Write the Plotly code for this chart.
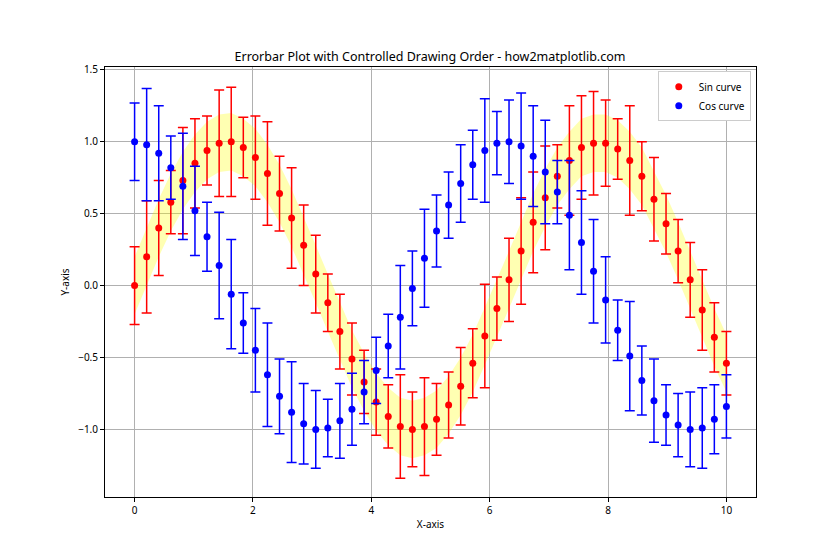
import plotly.graph_objects as go

# x positions (50 evenly spaced samples from 0 to 10)
x_vals = [0.0, 0.204, 0.408, 0.612, 0.816, 1.020, 1.224, 1.429, 1.633, 1.837,
          2.041, 2.245, 2.449, 2.653, 2.857, 3.061, 3.265, 3.469, 3.673, 3.878,
          4.082, 4.286, 4.490, 4.694, 4.898, 5.102, 5.306, 5.510, 5.714, 5.918,
          6.122, 6.327, 6.531, 6.735, 6.939, 7.143, 7.347, 7.551, 7.755, 7.959,
          8.163, 8.367, 8.571, 8.776, 8.980, 9.184, 9.388, 9.592, 9.796, 10.0]

sin_vals = [0.00, 0.20, 0.40, 0.58, 0.73, 0.85, 0.94, 0.99, 1.00, 0.96,
            0.89, 0.78, 0.64, 0.47, 0.28, 0.08, -0.12, -0.32, -0.51, -0.67,
            -0.81, -0.91, -0.98, -1.00, -0.98, -0.93, -0.83, -0.70, -0.54, -0.35,
            -0.16, 0.04, 0.24, 0.44, 0.61, 0.76, 0.87, 0.96, 0.99, 0.99,
            0.95, 0.87, 0.76, 0.60, 0.43, 0.24, 0.04, -0.17, -0.36, -0.54]

cos_vals = [1.00, 0.98, 0.92, 0.82, 0.69, 0.52, 0.34, 0.14, -0.06, -0.26,
            -0.45, -0.62, -0.77, -0.88, -0.96, -1.00, -0.99, -0.94, -0.86, -0.74,
            -0.59, -0.42, -0.22, -0.02, 0.19, 0.38, 0.56, 0.71, 0.84, 0.94,
            0.99, 1.00, 0.97, 0.90, 0.79, 0.65, 0.49, 0.30, 0.10, -0.10,
            -0.31, -0.49, -0.66, -0.80, -0.90, -0.97, -1.00, -0.99, -0.93, -0.84]

# error sizes (same for both curves)
y_err = [0.27, 0.39, 0.33, 0.22, 0.37, 0.31, 0.24, 0.37, 0.38, 0.21,
         0.29, 0.36, 0.26, 0.35, 0.28, 0.27, 0.20, 0.26, 0.25, 0.22,
         0.23, 0.22, 0.36, 0.26, 0.34, 0.25, 0.23, 0.27, 0.24, 0.36,
         0.22, 0.29, 0.37, 0.35, 0.36, 0.22, 0.38, 0.36, 0.36, 0.30,
         0.21, 0.38, 0.24, 0.29, 0.21, 0.22, 0.26, 0.28, 0.24, 0.22]

band_width = 0.2

band_upper = [v + band_width for v in sin_vals]
band_lower = [v - band_width for v in sin_vals]

fig = go.Figure()

# yellow band around sin curve
fig.add_trace(
    go.Scatter(
        x=x_vals,
        y=band_upper,
        mode="lines",
        line=dict(width=0),
        showlegend=False,
        hoverinfo="skip"
    )
)
fig.add_trace(
    go.Scatter(
        x=x_vals,
        y=band_lower,
        mode="lines",
        line=dict(width=0),
        fill="tonexty",
        fillcolor="rgba(255,255,0,0.3)",
        showlegend=False,
        hoverinfo="skip"
    )
)

# SIN
fig.add_trace(
    go.Scatter(
        x=x_vals,
        y=sin_vals,
        mode="markers",
        name="Sin curve",
        marker=dict(color="red", size=7),
        error_y=dict(type="data", array=y_err, color="red",
                     thickness=1.5, width=5)
    )
)

# COS
fig.add_trace(
    go.Scatter(
        x=x_vals,
        y=cos_vals,
        mode="markers",
        name="Cos curve",
        marker=dict(color="blue", size=7),
        error_y=dict(type="data", array=y_err, color="blue",
                     thickness=1.5, width=5)
    )
)

axis_style = dict(
    showline=True,
    linecolor="black",
    linewidth=1,
    mirror=True,
    ticks="outside",
    ticklen=4,
    tickcolor="black",
    showgrid=True,
    gridcolor="#b0b0b0",
    gridwidth=0.8,
    zeroline=False,
    automargin=False,
    tickfont=dict(size=10, color="black")
)

fig.update_layout(
    width=840,
    height=560,
    paper_bgcolor="white",
    plot_bgcolor="white",
    font=dict(family="Noto Sans, DejaVu Sans, sans-serif", color="black"),
    title=dict(
        text="Errorbar Plot with Controlled Drawing Order - how2matplotlib.com",
        x=0.5024, xanchor="center", y=0.914, yanchor="middle",
        font=dict(size=12.5)
    ),
    margin=dict(l=97, r=92, t=59, b=71),
    xaxis=dict(axis_style, range=[-0.5, 10.5], tickvals=[0, 2, 4, 6, 8, 10],
               title=dict(text="X-axis", font=dict(size=10), standoff=4)),
    yaxis=dict(axis_style, range=[-1.47, 1.52], tickvals=[-1.0, -0.5, 0.0, 0.5, 1.0, 1.5],
               tickformat=".1f",
               title=dict(text="Y-axis", font=dict(size=10), standoff=6)),
    legend=dict(
        x=0.992, y=0.99, xanchor="right", yanchor="top",
        traceorder="normal", tracegroupgap=0,
        bgcolor="white", bordercolor="#cccccc", borderwidth=1,
        font=dict(size=10)
    )
)

fig.write_html("out.html")
